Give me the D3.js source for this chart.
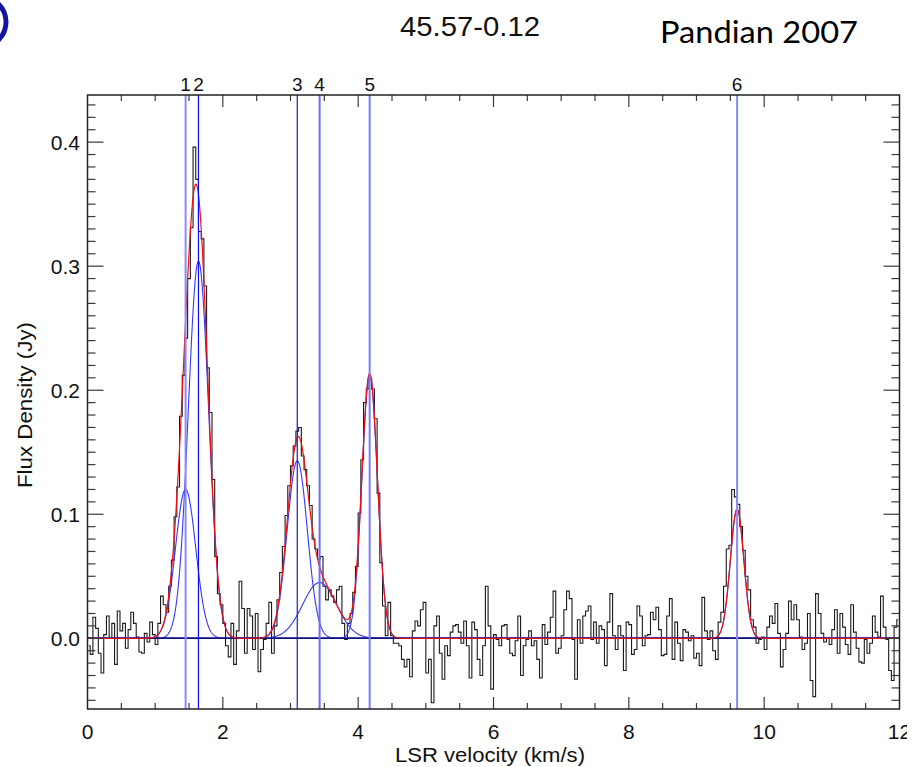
<!DOCTYPE html>
<html>
<head>
<meta charset="utf-8">
<script src="https://cdn.jsdelivr.net/npm/d3@7"></script>
<style>
  body { margin: 0; background: #fff; }
  text { font-family: "Liberation Sans", Arial, sans-serif; }
</style>
</head>
<body>
<svg id="chart" width="912" height="767"></svg>
<script>
// spectrum: one value per 0.04 km/s channel, starting at 0 km/s
let chanStart = 0, chanWidth = 0.04
let flux = [
  -0.006, -0.013, 0.017, 0.008, -0.012, -0.028, 0.003, 0.018, 0.000, 0.012, -0.021, 0.022, 0.006, 0.012, -0.008, 0.007, 0.021, 0.012, 0.001, -0.011, -0.012, 0.004, -0.003, 0.013, 0.003,
  -0.005, 0.012, 0.034, 0.027, 0.021, 0.042, 0.063, 0.098, 0.122, 0.179, 0.212, 0.242, 0.290, 0.331, 0.396, 0.370, 0.328, 0.322, 0.284, 0.218, 0.182, 0.128, 0.066, 0.036, 0.027, 0.012, -0.006, -0.015, 0.012, -0.021, 0.006, 0.046, 0.024, -0.012, 0.024,
  0.018, -0.009, 0.020, -0.027, -0.009, -0.001, 0.012, 0.029, -0.012, 0.010, 0.031, 0.053, 0.074, 0.099, 0.123, 0.139, 0.155, 0.167, 0.170, 0.147, 0.136, 0.123, 0.107, 0.080, 0.072, 0.064, 0.066, 0.042, 0.031, 0.039, 0.034, 0.029, 0.039, 0.042, 0.012, -0.001, 0.012, 0.020, 0.037, 0.058, 0.101, 0.144, 0.190, 0.201, 0.209, 0.201, 0.177, 0.117, 0.061, 0.026, 0.002, 0.029, 0.002, -0.004, -0.004, -0.006, -0.017, -0.023, -0.017, -0.031,
  0.006, 0.014, 0.010, 0.023, 0.029, -0.028, -0.017, -0.052, 0.010, 0.018, -0.012, -0.033, -0.006, -0.014, 0.005, 0.010, 0.011, 0.005, -0.004, 0.014, -0.006, -0.032, 0.013, 0.007, -0.017, -0.030, -0.006, 0.042, 0.010, -0.041, 0.003, -0.001, -0.006, 0.010, 0.011, -0.001, -0.012, -0.014, -0.002, 0.018, -0.030, -0.006, -0.001, 0.006, -0.006, -0.002, -0.017, -0.032, 0.011, -0.005, 0.005, 0.017, 0.038, -0.012, -0.008, 0.002, 0.023, 0.038, 0.032,
  -0.001, -0.033, 0.015, -0.004, 0.018, 0.022, 0.026, -0.001, 0.013, -0.004, 0.010, 0.007, -0.022, 0.013, 0.036, 0.002, -0.009, 0.010, 0.002, -0.026, 0.013, 0.011, -0.013, -0.009, 0.026, 0.018, -0.006, 0.002, 0.003, 0.021, 0.015, 0.025, 0.007, -0.014, -0.013, 0.018, 0.032, -0.017, 0.013, -0.004, -0.018, 0.007, 0.005, -0.002, 0.002, -0.016, -0.012, -0.022, 0.033, 0.006, -0.001, 0.006, -0.010, -0.017, 0.013, 0.021, 0.042, 0.072, 0.075,
  0.120, 0.114, 0.108, 0.090, 0.071, 0.050, 0.039, 0.015, 0.009, -0.004, -0.001, 0.001, -0.009, 0.009, 0.018, 0.012, 0.028, 0.004, -0.023, -0.009, 0.004, 0.030, 0.015, 0.027, 0.015, 0.001, -0.009, -0.004, 0.020, -0.034, -0.047, 0.036, 0.020, 0.004, -0.003, 0.000, -0.005, 0.007, 0.023, -0.012, 0.020, 0.009, -0.005, -0.013, 0.027, 0.005, -0.008, -0.019, -0.020, -0.001, -0.012, -0.004, 0.018, 0.005, 0.001, 0.034, 0.009, -0.001, -0.026, -0.034, 0.009, 0.015
]

// gaussian fit components
let compLabel  = ["1", "2", "3", "4", "5", "6"]
let compCenter = [1.45, 1.64, 3.10, 3.43, 4.17, 9.60]
let compAmp    = [0.120, 0.304, 0.143, 0.045, 0.213, 0.104]
let compSigma  = [0.15, 0.15, 0.15, 0.25, 0.115, 0.10]

let xTicks = [0, 2, 4, 6, 8, 10, 12]
let yTicks = [0.0, 0.1, 0.2, 0.3, 0.4]

let pLeft = 87.5, pRight = 899.5, pTop = 95, pBottom = 709

let svg = d3.select("#chart")
let x = d3.scaleLinear().domain([0, 12]).range([pLeft, pRight])
let y = d3.scaleLinear().domain([-0.057, 0.438]).range([pBottom, pTop])

let gauss = (v, i) => compAmp[i] * Math.exp(-0.5 * ((v - compCenter[i]) / compSigma[i]) ** 2)
let grid = d3.range(0, 12.0001, 0.005)

let defs = svg.append("defs")
defs.append("clipPath").attr("id", "plotclip")
  .append("rect").attr("x", pLeft).attr("y", pTop).attr("width", pRight - pLeft).attr("height", pBottom - pTop)
// the original picture is cut just past the last tick label
defs.append("clipPath").attr("id", "pageclip")
  .append("rect").attr("x", 0).attr("y", 0).attr("width", 907).attr("height", 767)

let plot = svg.append("g").attr("clip-path", "url(#plotclip)")

// data histogram
let stepLine = d3.line().x(d => x(d[0])).y(d => y(d[1])).curve(d3.curveStep)
plot.append("path")
  .datum(flux.map((f, i) => [chanStart + (i + 0.5) * chanWidth, f]))
  .attr("d", stepLine)
  .attr("fill", "none").attr("stroke", "#1a1a1a").attr("stroke-width", 1.1)

// individual components
let smooth = d3.line().x(d => x(d[0])).y(d => y(d[1]))
compCenter.forEach((c, i) => {
  plot.append("path")
    .datum(grid.map(v => [v, gauss(v, i)]))
    .attr("d", smooth)
    .attr("fill", "none").attr("stroke", "#3535ff").attr("stroke-width", 1.1)
})

// zero line
plot.append("line")
  .attr("x1", pLeft).attr("x2", pRight).attr("y1", y(0)).attr("y2", y(0))
  .attr("stroke", "#10106e").attr("stroke-width", 1.6)

// total fit
plot.append("path")
  .datum(grid.map(v => [v, d3.sum(compCenter, (c, i) => gauss(v, i))]))
  .attr("d", smooth)
  .attr("fill", "none").attr("stroke", "#ee1111").attr("stroke-width", 1.2)

// markers at the component centres
let markColor = ["#8a8aff", "#0a0aff", "#1a1ad0", "#6a6aff", "#7a7aff", "#8a8aff"]
let markWidth = [2, 1.2, 1.2, 2, 2, 2]
svg.selectAll(".mark").data(compCenter).join("line")
  .attr("class", "mark")
  .attr("x1", d => x(d)).attr("x2", d => x(d))
  .attr("y1", pTop).attr("y2", pBottom)
  .attr("stroke", (d, i) => markColor[i]).attr("stroke-width", (d, i) => markWidth[i])

svg.selectAll(".markLabel").data(compCenter).join("text")
  .attr("class", "markLabel")
  .attr("x", d => x(d)).attr("y", 91)
  .attr("text-anchor", "middle").attr("font-size", "19px").attr("fill", "#111")
  .text((d, i) => compLabel[i])

// frame + ticks on all four sides
let axisCol = "#3a3a3a"
function ticks(vals, major, isX) {
  vals.forEach(v => {
    let len = major(v) ? (isX ? 12 : 16) : (isX ? 6 : 8)
    if (isX) {
      svg.append("line").attr("x1", x(v)).attr("x2", x(v)).attr("y1", pBottom).attr("y2", pBottom - len).attr("stroke", axisCol).attr("stroke-width", 1.2)
      svg.append("line").attr("x1", x(v)).attr("x2", x(v)).attr("y1", pTop).attr("y2", pTop + len).attr("stroke", axisCol).attr("stroke-width", 1.2)
    } else {
      svg.append("line").attr("y1", y(v)).attr("y2", y(v)).attr("x1", pLeft).attr("x2", pLeft + len).attr("stroke", axisCol).attr("stroke-width", 1.2)
      svg.append("line").attr("y1", y(v)).attr("y2", y(v)).attr("x1", pRight).attr("x2", pRight - len).attr("stroke", axisCol).attr("stroke-width", 1.2)
    }
  })
}
ticks(d3.range(0.5, 12, 0.5), v => Math.abs(v % 2) < 1e-6, true)
ticks(d3.range(-0.05, 0.436, 0.01).map(v => Math.round(v * 100) / 100), v => Math.abs(Math.round(v * 100) % 10) === 0, false)

svg.append("rect").attr("x", pLeft).attr("y", pTop).attr("width", pRight - pLeft).attr("height", pBottom - pTop)
  .attr("fill", "none").attr("stroke", "#222").attr("stroke-width", 1.5)

// tick labels
svg.append("g").attr("clip-path", "url(#pageclip)")
  .selectAll(".xlab").data(xTicks).join("text")
  .attr("class", "xlab")
  .attr("x", d => x(d)).attr("y", 739)
  .attr("text-anchor", "middle").attr("font-size", "21px").attr("fill", "#111")
  .text(d => d)

svg.selectAll(".ylab").data(yTicks).join("text")
  .attr("class", "ylab")
  .attr("x", 80).attr("y", d => y(d) + 7.5)
  .attr("text-anchor", "end").attr("font-size", "21px").attr("fill", "#111")
  .text(d => d.toFixed(1))

// axis titles
svg.append("text").attr("x", 490).attr("y", 762)
  .attr("text-anchor", "middle").attr("font-size", "21px").attr("fill", "#111")
  .attr("textLength", 190).attr("lengthAdjust", "spacingAndGlyphs")
  .text("LSR velocity (km/s)")

svg.append("text").attr("transform", "translate(32,405) rotate(-90)")
  .attr("text-anchor", "middle").attr("font-size", "21px").attr("fill", "#111")
  .attr("textLength", 166).attr("lengthAdjust", "spacingAndGlyphs")
  .text("Flux Density (Jy)")

// titles
svg.append("text").attr("x", 400).attr("y", 36)
  .attr("font-size", "27px").attr("fill", "#111")
  .attr("textLength", 140).attr("lengthAdjust", "spacingAndGlyphs")
  .text("45.57-0.12")

svg.append("text").attr("x", 660).attr("y", 43)
  .style("font-family", "Lato, 'Open Sans', sans-serif")
  .attr("font-size", "31px").attr("fill", "#000")
  .attr("textLength", 198).attr("lengthAdjust", "spacingAndGlyphs")
  .text("Pandian 2007")

// ring cut off at the top-left corner
svg.append("circle").attr("cx", -19).attr("cy", 22).attr("r", 25)
  .attr("fill", "none").attr("stroke", "#1414a0").attr("stroke-width", 5)
</script>
</body>
</html>
